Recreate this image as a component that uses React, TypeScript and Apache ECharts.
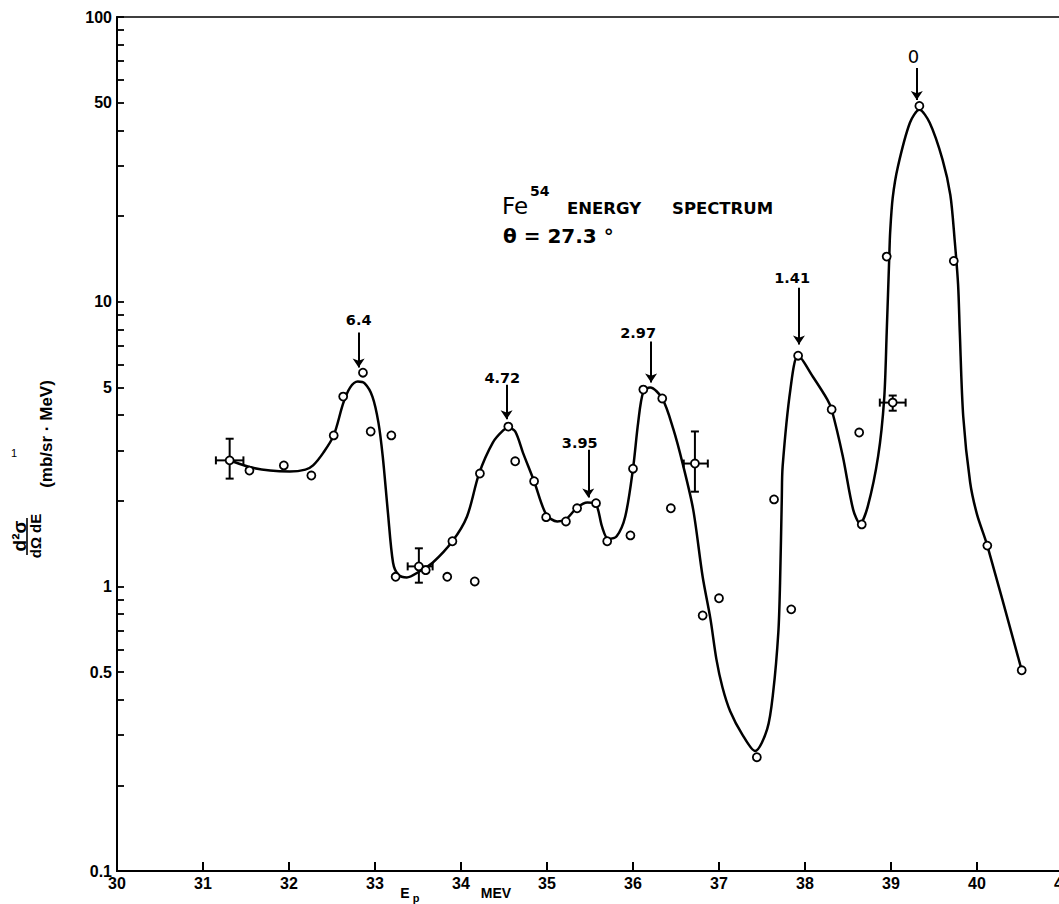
import React, { useEffect, useRef } from "react";
import * as echarts from "echarts";

const FONT = "'Liberation Sans', 'DejaVu Sans', Arial, sans-serif";
const DV = "'DejaVu Sans', 'Liberation Sans', sans-serif";

// Axis ticks/labels
const Y_LABELS = [0.1, 0.5, 1, 5, 10, 50, 100];
const Y_TICKS = [
  0.1, 0.2, 0.3, 0.4, 0.5, 0.6, 0.7, 0.8, 0.9,
  1, 2, 3, 4, 5, 6, 7, 8, 9,
  10, 20, 30, 40, 50, 60, 70, 80, 90, 100,
];

// Measured points (E_p in MeV, cross-section in mb/sr·MeV)
const pointX = [
  31.31, 31.54, 31.94, 32.26, 32.52, 32.63, 32.86, 32.95, 33.19, 33.24,
  33.51, 33.59, 33.84, 33.9, 34.16, 34.22, 34.55, 34.63, 34.85, 34.99,
  35.22, 35.35, 35.57, 35.7, 35.97, 36.0, 36.12, 36.34, 36.44, 36.72,
  36.81, 37.0, 37.44, 37.64, 37.84, 37.92, 38.31, 38.63, 38.66, 38.95,
  39.02, 39.33, 39.73, 40.12, 40.52,
];
const pointY = [
  2.77, 2.55, 2.66, 2.45, 3.39, 4.64, 5.63, 3.5, 3.39, 1.08,
  1.175, 1.14, 1.08, 1.44, 1.04, 2.49, 3.64, 2.75, 2.34, 1.75,
  1.69, 1.88, 1.96, 1.44, 1.51, 2.59, 4.91, 4.57, 1.88, 2.7,
  0.79, 0.908, 0.251, 2.02, 0.83, 6.46, 4.18, 3.47, 1.65, 14.4,
  4.42, 48.7, 13.9, 1.39, 0.507,
];

// Hand-drawn fitted curve
const curveX = [
  31.34, 31.55, 31.78, 32.01, 32.19, 32.28, 32.4, 32.52, 32.63, 32.71,
  32.8, 32.88, 32.97, 33.04, 33.09, 33.15, 33.21, 33.27, 33.37, 33.52,
  33.67, 33.9, 34.07, 34.21, 34.37, 34.49, 34.55, 34.63, 34.72, 34.85,
  34.99, 35.12, 35.22, 35.35, 35.47, 35.57, 35.64, 35.71, 35.81, 35.91,
  36.0, 36.06, 36.12, 36.2, 36.34, 36.47, 36.58, 36.7, 36.81, 36.9,
  36.97, 37.04, 37.13, 37.27, 37.42, 37.56, 37.63, 37.69, 37.71, 37.73,
  37.74, 37.83, 37.92, 38.09, 38.26, 38.31, 38.44, 38.56, 38.64, 38.73,
  38.85, 38.92, 38.95, 38.98, 38.99, 39.02, 39.08, 39.22, 39.33, 39.45,
  39.6, 39.69, 39.74, 39.78, 39.8, 39.84, 39.92, 40.0, 40.12, 40.52,
];
const curveY = [
  2.75, 2.62, 2.55, 2.53, 2.57, 2.66, 2.95, 3.39, 4.39, 4.99,
  5.24, 5.16, 4.64, 3.76, 2.86, 1.82, 1.21, 1.1, 1.075, 1.13,
  1.21, 1.44, 1.76, 2.49, 3.2, 3.53, 3.61, 3.5, 2.95, 2.34,
  1.79, 1.69, 1.72, 1.89, 1.97, 1.94, 1.62, 1.47, 1.5, 1.76,
  2.59, 3.76, 4.83, 4.99, 4.57, 3.56, 2.68, 1.86, 1.08, 0.77,
  0.554, 0.442, 0.364, 0.302, 0.264, 0.315, 0.425, 0.69, 1.03, 2.02,
  2.64, 4.91, 6.47, 5.46, 4.53, 4.18, 2.86, 1.86, 1.66, 1.91,
  2.86, 4.53, 7.79, 14.4, 17.5, 23.2, 29.8, 42.5, 47.2, 42.5,
  31.5, 23.7, 16.5, 11.5, 7.79, 3.95, 2.32, 1.79, 1.39, 0.507,
];

// Error bars: centre, vertical range, horizontal range
const errX = [31.31, 33.51, 36.72, 39.02];
const errY = [2.77, 1.175, 2.7, 4.42];
const errYLo = [2.39, 1.03, 2.15, 4.14];
const errYHi = [3.3, 1.36, 3.5, 4.68];
const errXLo = [31.15, 33.38, 36.59, 38.87];
const errXHi = [31.47, 33.67, 36.87, 39.17];

// Peak annotations (excitation energies) with arrows
const peakNames = ["6.4", "4.72", "3.95", "2.97", "1.41", "0"];
const peakLabelX = [32.81, 34.48, 35.38, 36.06, 37.85, 39.26];
const peakLabelY = [8.65, 5.41, 3.2, 7.79, 12.1, 72.4];
const arrowX = [32.81, 34.53, 35.48, 36.21, 37.93, 39.3];
const arrowTop = [7.79, 5.11, 3.02, 7.24, 11.2, 66.2];
const arrowBottom = [5.87, 3.86, 2.05, 5.2, 7.07, 51.1];

function fmtY(v: number): string {
  const r = Math.pow(10, v);
  return String(Number(r.toPrecision(2)));
}

export default function App() {
  const ref = useRef<HTMLDivElement>(null);

  useEffect(() => {
    if (!ref.current) return;
    const chart = echarts.init(ref.current, null, { renderer: "svg" });

    const points = pointX.map((x, i) => [x, pointY[i]]);
    const curve = curveX.map((x, i) => [x, curveY[i]]);
    const errors = errX.map((x, i) => [x, errY[i], errYLo[i], errYHi[i], errXLo[i], errXHi[i]]);
    const arrows = arrowX.map((x, i) => [
      { coord: [x, arrowTop[i]] },
      { coord: [x, arrowBottom[i]] },
    ]);
    const labels = peakNames.map((n, i) => ({
      name: n,
      value: [peakLabelX[i], peakLabelY[i]],
      label: n === "0" ? { fontSize: 18, fontWeight: "normal" } : undefined,
    }));

    const option: any = {
      animation: false,
      backgroundColor: "#ffffff",
      grid: {
        left: 117,
        right: -4,
        top: 17,
        bottom: 33,
        containLabel: false,
        outerBoundsMode: "none",
        show: true,
        borderColor: "#000",
        borderWidth: 1.5,
        backgroundColor: "transparent",
      },
      xAxis: {
        type: "value",
        min: 30,
        max: 41,
        interval: 1,
        axisLine: { show: true, onZero: false, lineStyle: { color: "#000", width: 2 } },
        axisTick: { show: true, inside: true, length: 9, lineStyle: { color: "#000", width: 2 } },
        axisLabel: {
          color: "#000",
          fontSize: 16,
          fontWeight: "bold",
          fontFamily: FONT,
          margin: 4,
          showMinLabel: true,
          showMaxLabel: true,
        },
        splitLine: { show: false },
      },
      yAxis: [
        {
          type: "log",
          logBase: 10,
          min: 0.1,
          max: 100,
          position: "left",
          axisLine: { show: true, onZero: false, lineStyle: { color: "#000", width: 2 } },
          axisTick: { show: false },
          axisLabel: { show: false },
          splitLine: { show: false },
          minorTick: { show: false },
        },
        {
          type: "value",
          min: -1,
          max: 2,
          position: "left",
          axisLine: { show: false },
          axisTick: {
            show: true,
            inside: true,
            length: 7,
            customValues: Y_TICKS.map((v) => Math.log10(v)),
            lineStyle: { color: "#000", width: 1.8 },
          },
          axisLabel: {
            show: true,
            customValues: Y_LABELS.map((v) => Math.log10(v)),
            formatter: (v: number) => fmtY(v),
            color: "#000",
            fontSize: 16,
            fontWeight: "bold",
            fontFamily: FONT,
            margin: 5,
          },
          splitLine: { show: false },
        },
      ],
      series: [
        {
          type: "line",
          name: "fit",
          yAxisIndex: 0,
          data: curve,
          showSymbol: false,
          smooth: 0.3,
          lineStyle: { color: "#000", width: 2.5 },
          z: 3,
          markLine: {
            silent: true,
            symbol: ["none", "arrow"],
            symbolSize: 9,
            label: { show: false },
            lineStyle: { color: "#000", width: 2, type: "solid" },
            data: arrows,
          },
        },
        {
          type: "custom",
          name: "errors",
          yAxisIndex: 0,
          data: errors,
          encode: { x: 0, y: 1 },
          z: 4,
          renderItem: (params: any, api: any) => {
            const lo = api.coord([api.value(0), api.value(2)]);
            const hi = api.coord([api.value(0), api.value(3)]);
            const l = api.coord([api.value(4), api.value(1)]);
            const r = api.coord([api.value(5), api.value(1)]);
            const cap = 4;
            const st = { stroke: "#000", lineWidth: 2 };
            return {
              type: "group",
              children: [
                { type: "line", shape: { x1: lo[0], y1: lo[1], x2: hi[0], y2: hi[1] }, style: st },
                { type: "line", shape: { x1: lo[0] - cap, y1: lo[1], x2: lo[0] + cap, y2: lo[1] }, style: st },
                { type: "line", shape: { x1: hi[0] - cap, y1: hi[1], x2: hi[0] + cap, y2: hi[1] }, style: st },
                { type: "line", shape: { x1: l[0], y1: l[1], x2: r[0], y2: r[1] }, style: st },
                { type: "line", shape: { x1: l[0], y1: l[1] - cap, x2: l[0], y2: l[1] + cap }, style: st },
                { type: "line", shape: { x1: r[0], y1: r[1] - cap, x2: r[0], y2: r[1] + cap }, style: st },
              ],
            };
          },
        },
        {
          type: "scatter",
          name: "data",
          yAxisIndex: 0,
          data: points,
          symbol: "circle",
          symbolSize: 8,
          itemStyle: { color: "#fff", borderColor: "#000", borderWidth: 1.8, opacity: 1 },
          z: 5,
        },
        {
          type: "scatter",
          name: "peaks",
          yAxisIndex: 0,
          data: labels,
          symbolSize: 0,
          silent: true,
          itemStyle: { opacity: 1 },
          label: {
            show: true,
            position: "inside",
            formatter: "{b}",
            color: "#000",
            fontSize: 14.5,
            fontWeight: "bold",
            fontFamily: DV,
          },
          z: 6,
        },
      ],
      graphic: [
        // Title
        { type: "text", x: 502, y: 206, style: { text: "Fe", font: `normal 23px ${DV}`, fill: "#000", textAlign: "left", textVerticalAlign: "middle" } },
        { type: "text", x: 530, y: 191, style: { text: "54", font: `bold 14px ${DV}`, fill: "#000", textAlign: "left", textVerticalAlign: "middle" } },
        { type: "text", x: 567, y: 208, style: { text: "ENERGY", font: `bold 16.5px ${DV}`, fill: "#000", textAlign: "left", textVerticalAlign: "middle" } },
        { type: "text", x: 672, y: 208, style: { text: "SPECTRUM", font: `bold 16.5px ${DV}`, fill: "#000", textAlign: "left", textVerticalAlign: "middle" } },
        { type: "text", x: 503, y: 236, style: { text: "θ = 27.3 °", font: `bold 20px ${DV}`, fill: "#000", textAlign: "left", textVerticalAlign: "middle" } },
        // X-axis name
        { type: "text", x: 405, y: 893, style: { text: "E", font: `bold 14px ${FONT}`, fill: "#000", textAlign: "center", textVerticalAlign: "middle" } },
        { type: "text", x: 416, y: 898, style: { text: "p", font: `bold 11px ${FONT}`, fill: "#000", textAlign: "center", textVerticalAlign: "middle" } },
        { type: "text", x: 496, y: 893, style: { text: "MEV", font: `bold 14px ${FONT}`, fill: "#000", textAlign: "center", textVerticalAlign: "middle" } },
        // Y-axis name
        { type: "text", x: 19, y: 536, rotation: Math.PI / 2, style: { text: "d²σ", font: `bold 19px ${FONT}`, fill: "#000", textAlign: "center", textVerticalAlign: "middle" } },
        { type: "line", shape: { x1: 27, y1: 518, x2: 27, y2: 555 }, style: { stroke: "#000", lineWidth: 1.6 } },
        { type: "text", x: 35, y: 536, rotation: Math.PI / 2, style: { text: "dΩ dE", font: `bold 15px ${FONT}`, fill: "#000", textAlign: "center", textVerticalAlign: "middle" } },
        { type: "text", x: 46, y: 434, rotation: Math.PI / 2, style: { text: "(mb/sr · MeV)", font: `bold 17px ${FONT}`, fill: "#000", textAlign: "center", textVerticalAlign: "middle" } },
        { type: "text", x: 14, y: 453, style: { text: "1", font: `normal 11px ${FONT}`, fill: "#000", textAlign: "center", textVerticalAlign: "middle" } },
      ],
    };

    chart.setOption(option);
    return () => chart.dispose();
  }, []);

  return (
    <div
      ref={ref}
      style={{ position: "absolute", left: 0, top: 0, width: 1059, height: 904, background: "#fff" }}
    />
  );
}
